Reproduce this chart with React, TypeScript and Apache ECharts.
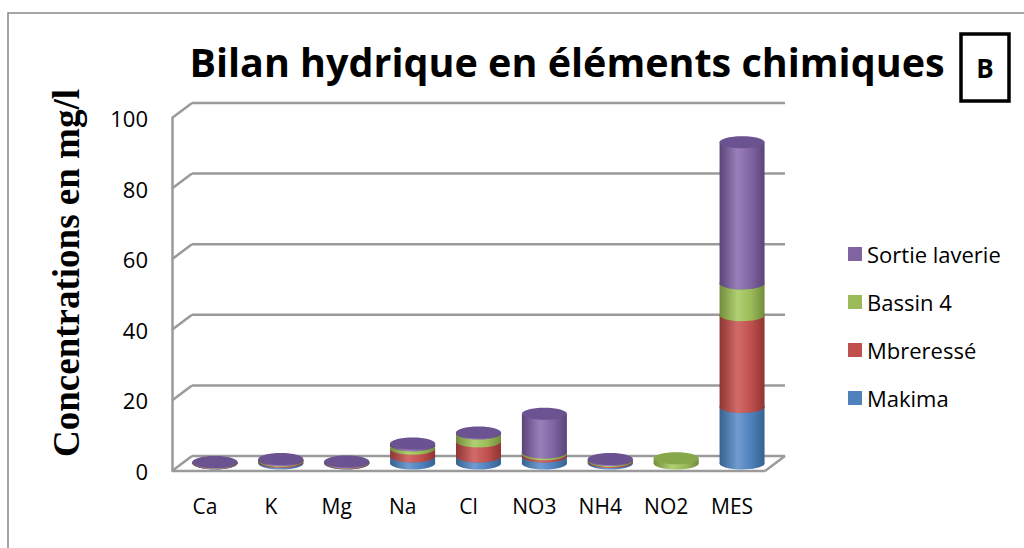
import React, { useEffect, useRef } from "react";
import * as echarts from "echarts";

const categories = ["Ca", "K", "Mg", "Na", "Cl", "NO3", "NH4", "NO2", "MES"];
const makima = [0.1, 0.4, 0.1, 2, 2, 2, 0.4, 0, 16];
const mbreresse = [0.1, 0.3, 0.2, 2.2, 4.2, 0.6, 0.3, 0, 26];
const bassin4 = [0.05, 0.2, 0.05, 1, 2.3, 0.5, 0.3, 1.5, 9];
const sortie = [0.2, 0.4, 0.2, 0.5, 0.3, 11, 0.3, 0, 40];
const seriesNames = ["Makima", "Mbreressé", "Bassin 4", "Sortie laverie"];
const yTicks = [0, 20, 40, 60, 80, 100];

const palette = [
  { main: "#4F81BD", light: "#6f9bd1", dark: "#37618f", top: "#4a78b0" },
  { main: "#C0504D", light: "#d26b68", dark: "#8e3533", top: "#b04a47" },
  { main: "#9BBB59", light: "#b1cf72", dark: "#728c3c", top: "#86a84a" },
  { main: "#8064A2", light: "#9a80bb", dark: "#5b4479", top: "#6b5290" },
];

const DX = 10; // bar mid-depth offset
const DY = 7.5;
const BW = 45;
const RY = 6;
const WX = 20; // back wall offset
const WY = 15;

export default function App() {
  const ref = useRef<HTMLDivElement>(null);
  useEffect(() => {
    if (!ref.current) return;
    const chart = echarts.init(ref.current, null, { renderer: "svg" });
    const all = [makima, mbreresse, bassin4, sortie];
    const cum = categories.map(() => 0);
    const barSeries = all.map((vals, s) => {
      const data = vals.map((v, i) => {
        const base = cum[i];
        cum[i] += v;
        return [i, base, base + v];
      });
      const c = palette[s];
      const grad = {
        type: "linear",
        x: 0,
        y: 0,
        x2: 1,
        y2: 0,
        colorStops: [
          { offset: 0, color: c.dark },
          { offset: 0.4, color: c.light },
          { offset: 0.7, color: c.main },
          { offset: 1, color: c.dark },
        ],
      };
      return {
        type: "custom",
        name: seriesNames[s],
        itemStyle: { color: c.main },
        encode: { x: 0, y: 2 },
        data,
        z: 5,
        renderItem: (params: any, api: any) => {
          const cat = api.value(0);
          const base = api.value(1);
          const top = api.value(2);
          if (top - base <= 0) return null;
          const p0 = api.coord([cat, base]);
          const p1 = api.coord([cat, top]);
          const cx = p0[0] + DX;
          const y0 = p0[1] - DY;
          const y1 = p1[1] - DY;
          return {
            type: "group",
            children: [
              { type: "ellipse", shape: { cx, cy: y0, rx: BW / 2, ry: RY }, style: { fill: grad } },
              { type: "rect", shape: { x: cx - BW / 2, y: y1, width: BW, height: Math.max(0, y0 - y1) }, style: { fill: grad } },
              { type: "ellipse", shape: { cx, cy: y1, rx: BW / 2, ry: RY }, style: { fill: c.top } },
            ],
          };
        },
      };
    });

    const frameSeries = {
      type: "custom",
      name: "frame",
      encode: { x: 0, y: 1 },
      data: yTicks.map((t) => [0, t]),
      z: 1,
      silent: true,
      renderItem: (params: any, api: any) => {
        const v = api.value(1);
        const y = api.coord([0, v])[1];
        const xl = params.coordSys.x;
        const xr = xl + params.coordSys.width;
        const st = { stroke: "#9a9a9a", lineWidth: 2.5 };
        const children: any[] = [
          { type: "line", shape: { x1: xl, y1: y, x2: xl + WX, y2: y - WY }, style: st },
          { type: "line", shape: { x1: xl + WX, y1: y - WY, x2: xr + WX, y2: y - WY }, style: st },
        ];
        if (v === 0) {
          children.push({ type: "line", shape: { x1: xl, y1: y, x2: xr, y2: y }, style: st });
          children.push({ type: "line", shape: { x1: xr, y1: y, x2: xr + WX, y2: y - WY }, style: st });
        }
        return { type: "group", children };
      },
    };

    chart.setOption({
      animation: false,
      backgroundColor: "#ffffff",
      grid: { left: 172, right: 259, top: 118, bottom: 77 },
      xAxis: {
        type: "category",
        data: categories,
        axisLine: { show: false },
        axisTick: { show: false },
        splitLine: { show: false },
        axisLabel: { fontSize: 21, color: "#000", fontFamily: "Open Sans", margin: 24 },
      },
      yAxis: {
        type: "value",
        min: 0,
        max: 100,
        interval: 20,
        axisLine: { show: true, lineStyle: { color: "#9a9a9a", width: 2.5 } },
        axisTick: { show: false },
        splitLine: { show: false },
        axisLabel: { fontSize: 22, color: "#000", fontFamily: "Open Sans", margin: 24 },
      },
      legend: {
        orient: "vertical",
        left: 843,
        top: 238,
        icon: "rect",
        itemWidth: 14,
        itemHeight: 14,
        itemGap: 26,
        data: ["Sortie laverie", "Bassin 4", "Mbreressé", "Makima"],
        textStyle: { fontSize: 22, fontFamily: "Open Sans", color: "#000", lineHeight: 22 },
      },
      graphic: [
        { type: "rect", shape: { x: 8, y: 13, width: 1100, height: 600 }, style: { fill: "none", stroke: "#888", lineWidth: 1.5 }, z: 0 },
        {
          type: "text",
          x: 567,
          y: 62,
          style: { text: "Bilan hydrique en éléments chimiques", fontSize: 39.5, fontWeight: "bold", fontFamily: "Open Sans", fill: "#000", align: "center", verticalAlign: "middle" },
        },
        { type: "rect", shape: { x: 961, y: 34, width: 48, height: 67 }, style: { fill: "none", stroke: "#000", lineWidth: 3.5 } },
        {
          type: "text",
          x: 985,
          y: 68,
          style: { text: "B", fontSize: 26, fontWeight: "bold", fontFamily: "Open Sans", fill: "#000", align: "center", verticalAlign: "middle" },
        },
        {
          type: "text",
          x: 66,
          y: 273,
          rotation: Math.PI / 2,
          style: { text: "Concentrations en mg/l", fontSize: 37, fontWeight: "bold", fontFamily: "Liberation Serif", fill: "#000", align: "center", verticalAlign: "middle" },
        },
      ],
      series: [frameSeries, ...barSeries],
    });
    return () => chart.dispose();
  }, []);
  return <div ref={ref} style={{ position: "fixed", left: 0, top: 0, width: 1024, height: 548 }} />;
}
